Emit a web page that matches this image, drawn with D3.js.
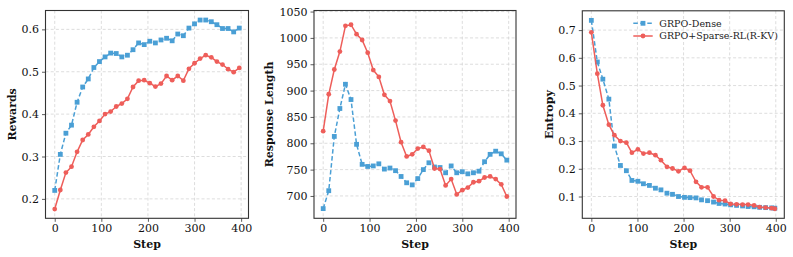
<!DOCTYPE html>
<html><head><meta charset="utf-8">
<script src="https://cdn.jsdelivr.net/npm/d3@7"></script>
<style>body{margin:0;background:#fff}svg{display:block}</style>
</head><body>
<svg id="chart" width="793" height="257"></svg>
<script>
// ---------- data ----------
const seriesNames = ["GRPO-Dense", "GRPO+Sparse-RL(R-KV)"];
const steps = [0,12,24,36,48,60,72,84,96,108,120,132,144,156,168,180,192,204,216,228,240,252,264,276,288,300,312,324,336,348,360,372,384,396];
const entropySteps = [0,13,25,38,50,63,76,88,101,113,126,139,151,164,176,189,202,214,227,239,252,265,277,290,302,315,328,340,353,365,378,391,398];

const rewardsDense = [0.220,0.305,0.355,0.374,0.428,0.464,0.483,0.510,0.524,0.535,0.544,0.543,0.535,0.539,0.552,0.568,0.564,0.572,0.568,0.575,0.579,0.573,0.589,0.585,0.603,0.613,0.622,0.622,0.618,0.611,0.602,0.602,0.594,0.603];
const rewardsSparse = [0.176,0.221,0.262,0.276,0.311,0.339,0.352,0.370,0.384,0.400,0.406,0.418,0.425,0.436,0.464,0.479,0.480,0.473,0.465,0.472,0.490,0.480,0.490,0.479,0.507,0.520,0.531,0.539,0.534,0.524,0.517,0.506,0.499,0.509];

const lengthDense = [676,710,813,866,912,883,798,760,756,757,761,751,753,748,737,725,721,733,750,763,755,754,744,757,744,746,742,744,747,765,779,785,780,768];
const lengthSparse = [823,893,940,974,1023,1025,1007,996,972,939,926,892,880,843,802,775,779,790,793,786,752,751,720,732,703,711,716,726,728,735,737,732,722,699];

const entropyDense = [0.735,0.585,0.523,0.451,0.282,0.212,0.193,0.158,0.155,0.146,0.140,0.130,0.124,0.112,0.108,0.100,0.097,0.096,0.095,0.088,0.085,0.080,0.075,0.073,0.070,0.068,0.066,0.064,0.063,0.061,0.060,0.059,0.058];
const entropySparse = [0.692,0.543,0.429,0.359,0.321,0.300,0.294,0.258,0.270,0.255,0.258,0.249,0.231,0.207,0.201,0.191,0.203,0.193,0.153,0.133,0.133,0.100,0.087,0.085,0.073,0.072,0.071,0.071,0.068,0.062,0.060,0.058,0.056];

const stepTicks = [0,100,200,300,400];
const rewardTicks = [0.2,0.3,0.4,0.5,0.6];
const lengthTicks = [700,750,800,850,900,950,1000,1050];
const entropyTicks = [0.1,0.2,0.3,0.4,0.5,0.6,0.7];

// ---------- style ----------
const BLUE = "#4a9fd5", RED = "#ee5e5a";
const SERIF = "'DejaVu Serif', serif";

const panels = [
  {l:45.5, r:248.5, t:10.5, b:218.3, xd:[-19.8,415.8], yd:[0.1542,0.6445], yt:rewardTicks, yf:d3.format(".1f"), ylab:"Rewards", labX:15.5, xs:steps, ys:[rewardsDense,rewardsSparse]},
  {l:314, r:516, t:10.5, b:218.3, xd:[-19.8,415.8], yd:[657.6,1052], yt:lengthTicks, yf:d3.format("d"), ylab:"Response Length", labX:272.5, xs:steps, ys:[lengthDense,lengthSparse]},
  {l:582.3, r:784.3, t:10.8, b:218.3, xd:[-19.6,418.5], yd:[0.0215,0.7695], yt:entropyTicks, yf:d3.format(".1f"), ylab:"Entropy", labX:552.5, xs:entropySteps, ys:[entropyDense,entropySparse], legend:true}
];

const svg = d3.select("#chart");

panels.forEach(p => {
  const x = d3.scaleLinear().domain(p.xd).range([p.l, p.r]);
  const y = d3.scaleLinear().domain(p.yd).range([p.b, p.t]);
  const g = svg.append("g");

  // grid
  g.append("g").selectAll("line").data(stepTicks).join("line")
    .attr("x1", d => x(d)).attr("x2", d => x(d)).attr("y1", p.t).attr("y2", p.b)
    .attr("stroke", "#d4d4d4").attr("stroke-width", 0.8).attr("stroke-dasharray", "3,2.2");
  g.append("g").selectAll("line").data(p.yt).join("line")
    .attr("y1", d => y(d)).attr("y2", d => y(d)).attr("x1", p.l).attr("x2", p.r)
    .attr("stroke", "#d4d4d4").attr("stroke-width", 0.8).attr("stroke-dasharray", "3,2.2");

  // axes
  const ax = g.append("g").attr("transform", `translate(0,${p.b})`)
    .call(d3.axisBottom(x).tickValues(stepTicks).tickFormat(d3.format("d")).tickSize(3.5).tickPadding(2.5).tickSizeOuter(0));
  const ay = g.append("g").attr("transform", `translate(${p.l},0)`)
    .call(d3.axisLeft(y).tickValues(p.yt).tickFormat(p.yf).tickSize(3.5).tickPadding(3).tickSizeOuter(0));
  [ax, ay].forEach(a => {
    a.select(".domain").remove();
    a.selectAll("line").attr("stroke", "#333").attr("stroke-width", 0.8);
    a.selectAll("text").attr("font-family", SERIF).attr("font-size", "11px").attr("fill", "#111");
  });

  // lines
  const line = (ys) => d3.line().x((d, i) => x(p.xs[i])).y(d => y(d))(ys);
  // dense (blue dashed, squares)
  g.append("path").attr("d", line(p.ys[0])).attr("fill", "none")
    .attr("stroke", BLUE).attr("stroke-width", 1.5).attr("stroke-dasharray", "4.5,2.5");
  g.append("g").selectAll("rect").data(p.ys[0]).join("rect")
    .attr("x", (d, i) => x(p.xs[i]) - 2.4).attr("y", d => y(d) - 2.4)
    .attr("width", 4.8).attr("height", 4.8).attr("fill", BLUE);
  // sparse (red solid, circles)
  g.append("path").attr("d", line(p.ys[1])).attr("fill", "none")
    .attr("stroke", RED).attr("stroke-width", 1.5);
  g.append("g").selectAll("circle").data(p.ys[1]).join("circle")
    .attr("cx", (d, i) => x(p.xs[i])).attr("cy", d => y(d)).attr("r", 2.4).attr("fill", RED);

  // frame
  g.append("rect").attr("x", p.l).attr("y", p.t).attr("width", p.r - p.l).attr("height", p.b - p.t)
    .attr("fill", "none").attr("stroke", "#333").attr("stroke-width", 1.1);

  // labels
  g.append("text").attr("x", (p.l + p.r) / 2).attr("y", 248)
    .attr("text-anchor", "middle").attr("font-family", SERIF).attr("font-weight", "bold")
    .attr("font-size", "11px").attr("fill", "#111").text("Step");
  g.append("text").attr("transform", `translate(${p.labX},${(p.t + p.b) / 2}) rotate(-90)`)
    .attr("text-anchor", "middle").attr("font-family", SERIF).attr("font-weight", "bold")
    .attr("font-size", "11px").attr("fill", "#111").text(p.ylab);

  if (p.legend) {
    const lg = g.append("g");
    const rows = [{name: seriesNames[0], c: BLUE, dash: "4.5,2.5", m: "sq", y: 23.3},
                  {name: seriesNames[1], c: RED, dash: null, m: "ci", y: 36}];
    rows.forEach(r => {
      lg.append("line").attr("x1", 633.3).attr("x2", 652.7).attr("y1", r.y).attr("y2", r.y)
        .attr("stroke", r.c).attr("stroke-width", 1.5).attr("stroke-dasharray", r.dash);
      if (r.m === "sq") lg.append("rect").attr("x", 643 - 2.4).attr("y", r.y - 2.4).attr("width", 4.8).attr("height", 4.8).attr("fill", r.c);
      else lg.append("circle").attr("cx", 643).attr("cy", r.y).attr("r", 2.4).attr("fill", r.c);
      lg.append("text").attr("x", 659.3).attr("y", r.y).attr("dy", "0.35em")
        .attr("font-family", SERIF).attr("font-size", "9.5px").attr("fill", "#222").text(r.name);
    });
  }
});
</script>
</body></html>
